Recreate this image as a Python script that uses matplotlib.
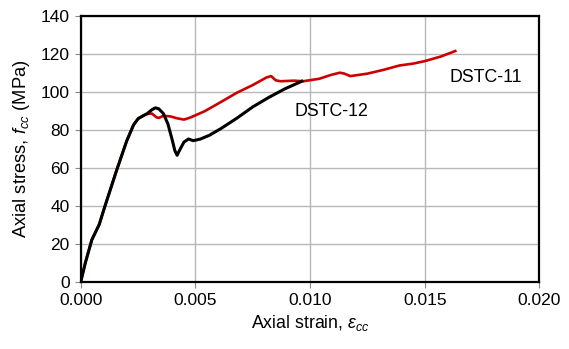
import matplotlib
matplotlib.use("Agg")
import matplotlib.pyplot as plt

plt.rcParams['font.family'] = ['Liberation Sans', 'DejaVu Sans']
plt.rcParams['mathtext.fontset'] = 'custom'
plt.rcParams['mathtext.rm'] = 'Liberation Sans'
plt.rcParams['mathtext.it'] = 'Liberation Sans:italic'

# DSTC-11 (red) stress-strain curve
strain_11 = [0.0, 0.0002, 0.00048, 0.0008, 0.00106, 0.00157, 0.002, 0.0023,
             0.0025, 0.0027, 0.0029, 0.0031, 0.0033, 0.0034, 0.0036, 0.0039,
             0.0042, 0.0045, 0.0048, 0.0054, 0.0061, 0.0068, 0.0075, 0.0081,
             0.0083, 0.0085, 0.0087, 0.0093, 0.0097, 0.0104, 0.0109, 0.0113,
             0.0115, 0.01175, 0.0125, 0.0132, 0.0139, 0.0145, 0.0150, 0.0157,
             0.01633]
stress_11 = [0.0, 10.0, 22.0, 30.0, 40.0, 58.9, 74.0, 82.5,
             85.8, 87.2, 88.3, 88.5, 86.5, 86.2, 87.3, 87.0,
             86.0, 85.3, 86.5, 89.7, 94.5, 99.4, 103.5, 107.5,
             108.2, 106.0, 105.5, 105.8, 105.5, 106.8, 108.8, 110.0,
             109.5, 108.2, 109.5, 111.5, 113.8, 114.8, 116.1, 118.5,
             121.4]

# DSTC-12 (black) stress-strain curve
strain_12 = [0.0, 0.0002, 0.00048, 0.0008, 0.00106, 0.00157, 0.002, 0.0023,
             0.0025, 0.0027, 0.0029, 0.0031, 0.00325, 0.0034, 0.0036, 0.0038,
             0.0040, 0.0041, 0.0042, 0.0043, 0.0045, 0.0047, 0.0049, 0.0052,
             0.0056, 0.0061, 0.0068, 0.0075, 0.0082, 0.0089, 0.00964]
stress_12 = [0.0, 10.0, 22.0, 30.0, 40.0, 58.9, 74.0, 82.5,
             85.8, 87.2, 88.5, 90.5, 91.5, 91.0, 88.5, 83.0,
             74.0, 69.0, 66.5, 69.0, 73.5, 75.1, 74.2, 75.0,
             77.0, 80.5, 86.0, 92.0, 97.0, 101.5, 105.5]

x_ticks = [0.0, 0.005, 0.010, 0.015, 0.020]
y_ticks = [0, 20, 40, 60, 80, 100, 120, 140]

fig = plt.figure(figsize=(5.69, 3.49), dpi=100)
ax = fig.add_axes([0.142, 0.193, 0.806, 0.762])

ax.plot(strain_11, stress_11, color='#cc0000', lw=1.9, zorder=3)
ax.plot(strain_12, stress_12, color='black', lw=2.2, zorder=4)

ax.set_xlim(0, 0.020)
ax.set_ylim(0, 140)
ax.set_xticks(x_ticks)
ax.set_yticks(y_ticks)
ax.set_xticklabels(['%.3f' % v for v in x_ticks])
ax.grid(True, color='#b8b8b8', lw=1.0)
ax.set_axisbelow(True)
ax.tick_params(labelsize=12.5, length=4, color='#888888', pad=4)
for s in ax.spines.values():
    s.set_linewidth(1.6)
    s.set_color('black')

ax.set_xlabel(r'Axial strain, $\varepsilon_{cc}$', fontsize=12.8, labelpad=4)
ax.set_ylabel(r'Axial stress, $f_{cc}$ (MPa)', fontsize=13.2, labelpad=6)

ax.text(0.01766, 107.3, 'DSTC-11', fontsize=12.8, ha='center', va='center')
ax.text(0.01094, 89.7, 'DSTC-12', fontsize=12.8, ha='center', va='center')

fig.savefig('out.png', dpi=100)
